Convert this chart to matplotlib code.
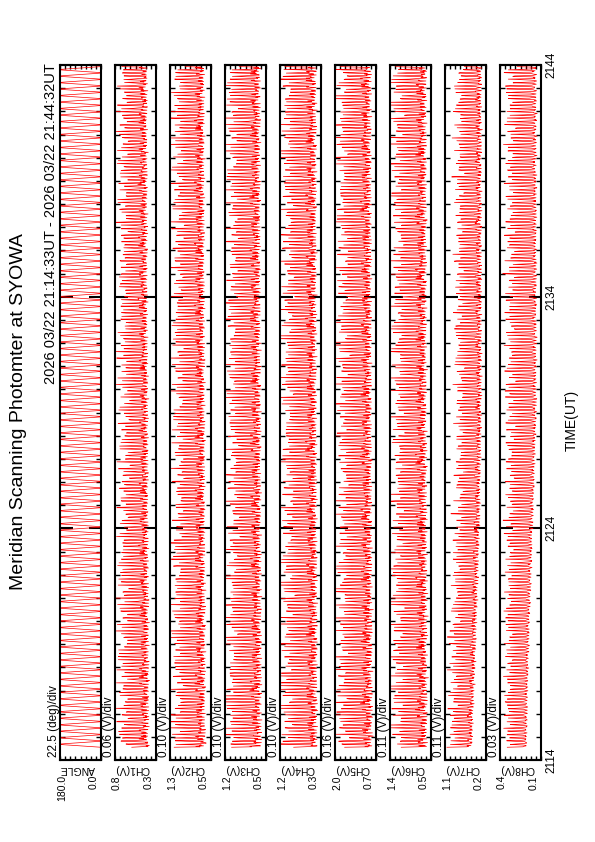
import numpy as np
import matplotlib
matplotlib.use('Agg')
import matplotlib.pyplot as plt
from matplotlib.ticker import MultipleLocator, FixedLocator

plt.rcParams['font.family'] = ['Liberation Sans', 'DejaVu Sans']

W, H = 595, 842  # page in pixels (portrait, plot is turned on its side)

title = 'Meridian Scanning Photomter at SYOWA'
subtitle = '2026 03/22 21:14:33UT - 2026 03/22 21:44:32UT'

panel_names = ['ANGLE', 'CH1(V)', 'CH2(V)', 'CH3(V)', 'CH4(V)',
               'CH5(V)', 'CH6(V)', 'CH7(V)', 'CH8(V)']
div_labels = ['22.5 (deg)/div', '0.06 (V)/div', '0.10 (V)/div', '0.10 (V)/div',
              '0.10 (V)/div', '0.16 (V)/div', '0.11 (V)/div', '0.11 (V)/div',
              '0.03 (V)/div']
axis_min = [0.0, 0.3, 0.5, 0.5, 0.3, 0.7, 0.5, 0.2, 0.1]
axis_max = [180.0, 0.8, 1.3, 1.2, 1.2, 2.0, 1.4, 1.1, 0.4]
min_labels = ['0.0', '0.3', '0.5', '0.5', '0.3', '0.7', '0.5', '0.2', '0.1']
max_labels = ['180.0', '0.8', '1.3', '1.2', '1.2', '2.0', '1.4', '1.1', '0.4']

time_ticks = [0, 10, 20, 30]          # minutes after 21:14 UT
time_labels = ['2114', '2124', '2134', '2144']
t_start = 0.55                        # 21:14:33
t_end = 29.98                         # 21:44:32

# one half sweep of the scanning mirror (deg) and its sample period
sweep_angle = [0, 30, 60, 90, 120, 150, 180]
sweep_dt = 1.2 / 60.0                 # minutes per sample
# relative brightness along one sweep (horizon -> zenith -> horizon)
sweep_shape = [1.0, 0.26, 0.12, 0.08, 0.1, 0.22, 0.88]
# estimated spread of spike heights from sweep to sweep
sweep_gain = [0.95, 0.7, 1.0, 0.8, 0.6, 0.9, 0.75, 1.0, 0.65, 0.85, 0.55,
              0.9, 0.8, 0.7, 1.0, 0.6, 0.88, 0.5, 0.97, 0.72, 0.83, 0.62, 0.92]
ripple = [0.0, 0.10, -0.05, 0.14, -0.03, 0.06, -0.06, 0.18, 0.0, -0.04,
          0.12, -0.02, 0.07, 0.24, -0.03, 0.04, 0.09, -0.05, 0.2]
# how strongly each channel carries that ripple
ripple_scale = [1.0, 1.0, 1.0, 1.0, 1.0, 1.0, 0.7, 0.35]

# envelope of each channel (low level / spike level) at these minutes
env_t = [0, 5, 10, 15, 20, 25, 30]
ch1_low = [0.38, 0.38, 0.39, 0.39, 0.40, 0.40, 0.40]
ch1_high = [0.76, 0.74, 0.74, 0.72, 0.74, 0.74, 0.74]
ch2_low = [0.60, 0.60, 0.61, 0.61, 0.62, 0.62, 0.62]
ch2_high = [1.24, 1.22, 1.22, 1.20, 1.22, 1.22, 1.22]
ch3_low = [0.57, 0.57, 0.58, 0.58, 0.59, 0.59, 0.59]
ch3_high = [1.16, 1.14, 1.13, 1.13, 1.14, 1.14, 1.14]
ch4_low = [0.37, 0.37, 0.38, 0.39, 0.39, 0.39, 0.39]
ch4_high = [1.14, 1.12, 1.12, 1.10, 1.12, 1.12, 1.12]
ch5_low = [0.80, 0.80, 0.82, 0.83, 0.83, 0.84, 0.84]
ch5_high = [1.92, 1.90, 1.88, 1.87, 1.88, 1.88, 1.88]
ch6_low = [0.57, 0.57, 0.58, 0.59, 0.59, 0.59, 0.59]
ch6_high = [1.34, 1.32, 1.32, 1.30, 1.32, 1.32, 1.32]
ch7_low = [0.50, 0.40, 0.32, 0.28, 0.28, 0.28, 0.28]
ch7_high = [1.02, 0.96, 0.88, 0.85, 0.87, 0.87, 0.87]
ch8_low = [0.20, 0.18, 0.15, 0.122, 0.122, 0.122, 0.122]
ch8_high = [0.37, 0.36, 0.36, 0.36, 0.36, 0.36, 0.36]

channel_low = [ch1_low, ch2_low, ch3_low, ch4_low, ch5_low, ch6_low, ch7_low, ch8_low]
channel_high = [ch1_high, ch2_high, ch3_high, ch4_high, ch5_high, ch6_high, ch7_high, ch8_high]


def build_scan():
    # lay the sweeps end to end, mirror going forth and back
    n = len(sweep_angle)
    n_sweeps = int((t_end - t_start) / (n * sweep_dt))
    t, ang, shp, gain = [], [], [], []
    for k in range(n_sweeps):
        a = sweep_angle if k % 2 == 0 else sweep_angle[::-1]
        s = sweep_shape if k % 2 == 0 else sweep_shape[::-1]
        for j in range(n):
            t.append(t_start + (k * n + j) * sweep_dt)
            ang.append(a[j])
            shp.append(s[j])
            gain.append(sweep_gain[k % len(sweep_gain)])
    return np.array(t), np.array(ang), np.array(shp), np.array(gain)


t, angle, shape, gain = build_scan()
rip = np.array([ripple[i % len(ripple)] for i in range(len(t))])

fig = plt.figure(figsize=(W / 100, H / 100), dpi=100)

left0, step, pw = 60, 55, 41
top, bottom = 65, 760

for i in range(9):
    ax = fig.add_axes([(left0 + step * i) / W, (H - bottom) / H,
                       pw / W, (bottom - top) / H])
    if i == 0:
        vals = angle
    else:
        lo = np.interp(t, env_t, channel_low[i - 1])
        hi = np.interp(t, env_t, channel_high[i - 1])
        off = i * 5
        g = np.roll(gain, off * len(sweep_angle))
        r = np.roll(rip, off) * ripple_scale[i - 1]
        vals = lo + (hi - lo) * (shape * g + r)
    ax.plot(vals, t, color='#ff0000', lw=0.5)

    ax.set_xlim(axis_max[i], axis_min[i])
    ax.set_ylim(0, 30)
    ax.xaxis.set_major_locator(FixedLocator(np.linspace(axis_min[i], axis_max[i], 9)))
    ax.yaxis.set_major_locator(FixedLocator(time_ticks))
    ax.yaxis.set_minor_locator(MultipleLocator(1))
    ax.tick_params(axis='x', which='major', direction='in', top=True, bottom=True,
                   length=3, width=1, labelbottom=False)
    ax.tick_params(axis='y', which='major', direction='in', left=True, right=True,
                   length=9, width=1.5, labelleft=False)
    ax.tick_params(axis='y', which='minor', direction='in', left=True, right=True,
                   length=3.5, width=1)
    for sp in ax.spines.values():
        sp.set_linewidth(1.5)

    # per-division label, panel name and range labels
    ax.text(-6 / pw, 3 / (bottom - top), div_labels[i], transform=ax.transAxes,
            rotation=90, rotation_mode='anchor', ha='left', va='center', fontsize=8.5)
    ax.text(0.42, -9 / (bottom - top), panel_names[i], transform=ax.transAxes,
            rotation=180, ha='center', va='center', fontsize=7.5)
    ax.text(2 / pw, -15 / (bottom - top), max_labels[i], transform=ax.transAxes,
            rotation=90, rotation_mode='anchor', ha='right', va='center', fontsize=7.5)
    ax.text(1 - 7 / pw, -15 / (bottom - top), min_labels[i], transform=ax.transAxes,
            rotation=90, rotation_mode='anchor', ha='right', va='center', fontsize=7.5)

    if i == 8:
        for tk, lab in zip(time_ticks, time_labels):
            ax.text(1 + 10 / pw, tk, lab, transform=ax.get_yaxis_transform(),
                    rotation=90, ha='center', va='center', fontsize=8.5)

fig.text(19 / W, 1 - 412 / H, title, rotation=90, ha='center', va='center', fontsize=14)
fig.text(51 / W, 1 - 63 / H, subtitle, rotation=90, rotation_mode='anchor',
         ha='right', va='center', fontsize=10.5)
fig.text(572 / W, 1 - 420 / H, 'TIME(UT)', rotation=90, ha='center', va='center',
         fontsize=10)

fig.savefig('out.png', dpi=100)
